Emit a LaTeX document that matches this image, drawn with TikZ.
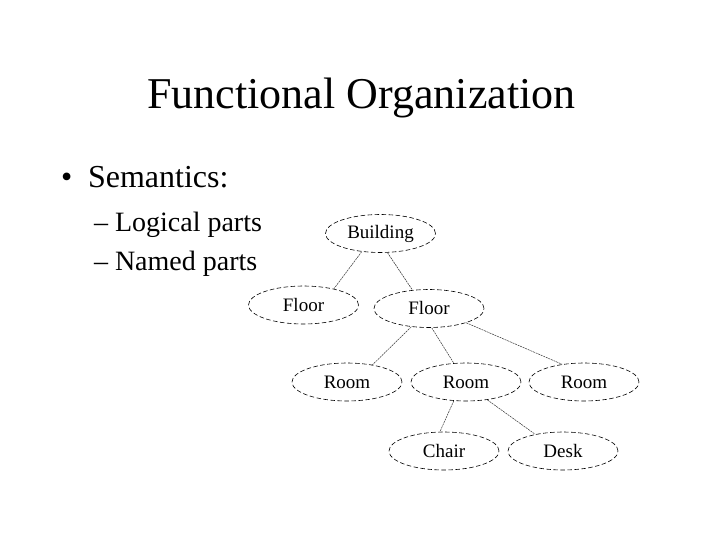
\documentclass[tikz,border=0pt]{standalone}
\usepackage{fontspec}
\setmainfont{Liberation Serif}
\usetikzlibrary{shapes.geometric}
\tikzset{
  part/.style={ellipse, draw=black, line width=0.6pt, dash pattern=on 4.5pt off 2.5pt,
    minimum width=110pt, minimum height=38pt, inner sep=0pt,
    font=\fontsize{19}{21}\selectfont},
  link/.style={draw=black!80, line width=0.5pt, dash pattern=on 2pt off 0.8pt},
  txt/.style={anchor=base west, inner sep=0pt, outer sep=0pt}
}
\begin{document}
\begin{tikzpicture}[x=1pt,y=-1pt]
\useasboundingbox[fill=white] (0,0) rectangle (720,540);
\node[anchor=base, inner sep=0pt, font=\fontsize{44}{48}\selectfont] (title) at (361.5,109) {Functional Organization};
\node[txt, font=\fontsize{32}{36}\selectfont] (bul) at (61,188) {•};
\node[txt, font=\fontsize{32}{36}\selectfont] (sem) at (88,188) {Semantics:};
\node[txt, font=\fontsize{28}{32}\selectfont] (l1) at (94,231) {– Logical parts};
\node[txt, font=\fontsize{28}{32}\selectfont] (l2) at (94,270) {– Named parts};

\node[part] (b)  at (380.5,233.5) {Building};
\node[part] (f1) at (303.5,305) {Floor};
\node[part] (f2) at (429,308.5) {Floor};
\node[part] (r1) at (347,382) {Room};
\node[part] (r2) at (466,382) {Room};
\node[part] (r3) at (584,382) {Room};
\node[part] (c)  at (444,451) {Chair};
\node[part] (d)  at (563,451) {Desk};

\draw[link] (b.224) -- (f1.28);
\draw[link] (b.290) -- (f2.132);
\draw[link] (f2.226) -- (r1.34);
\draw[link] (f2.278) -- (r2.123);
\draw[link] (f2.339) -- (r3.141);
\draw[link] (r2.237) -- (c.102);
\draw[link] (r2.320) -- (d.149);
\end{tikzpicture}
\end{document}
